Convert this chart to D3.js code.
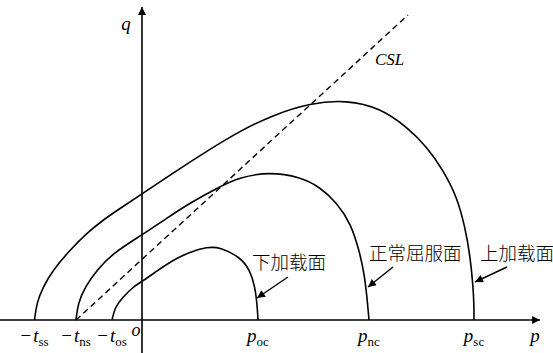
<!DOCTYPE html>
<html>
<head>
<meta charset="utf-8">
<script src="https://cdn.jsdelivr.net/npm/d3@7"></script>
<style>
  html, body { margin: 0; padding: 0; background: #fff; }
  svg { display: block; }
  .serif { font-family: "Liberation Serif", "DejaVu Serif", serif; font-style: italic; }
  .cjk { font-family: "Noto Sans CJK SC", sans-serif; font-weight: 300; }
</style>
</head>
<body>
<svg id="chart" width="553" height="353"></svg>
<script>
// Yield surfaces in the p–q plane (arbitrary stress units)
const surfaceNames = ["下加载面", "正常屈服面", "上加载面"];

const lowerSurfaceP = [-0.30, -0.27, -0.19, -0.09, 0, 0.15, 0.31, 0.48, 0.65, 0.78, 0.98, 1.08, 1.13, 1.15, 1.16];
const lowerSurfaceQ = [0, 0.13, 0.23, 0.33, 0.385, 0.49, 0.60, 0.68, 0.73, 0.73, 0.63, 0.50, 0.33, 0.17, 0];

const normalSurfaceP = [-0.66, -0.64, -0.57, -0.45, -0.29, 0, 0.25, 0.48, 0.75, 0.98, 1.28, 1.58, 1.78, 1.95, 2.09, 2.17, 2.22, 2.25, 2.27];
const normalSurfaceQ = [0, 0.17, 0.33, 0.50, 0.67, 0.85, 1.02, 1.17, 1.32, 1.43, 1.48, 1.43, 1.33, 1.17, 0.96, 0.70, 0.48, 0.23, 0];

const upperSurfaceP = [-1.075, -1.053, -0.99, -0.89, -0.72, -0.55, -0.39, -0.22, 0, 0.31, 0.65, 0.98, 1.31, 1.68, 2.05, 2.38, 2.65, 2.85, 3.01, 3.15, 3.23, 3.28, 3.31, 3.32, 3.32];
const upperSurfaceQ = [0, 0.17, 0.33, 0.50, 0.70, 0.87, 1.00, 1.115, 1.26, 1.47, 1.69, 1.89, 2.05, 2.17, 2.20, 2.12, 1.93, 1.73, 1.50, 1.23, 0.93, 0.65, 0.35, 0.15, 0];

// Critical state line
const cslP = [-0.66, 2.66];
const cslQ = [0, 3.05];

// Axis intercept labels: main letter, subscript, leading minus
const tickValues = [-1.075, -0.66, -0.30, 1.16, 2.27, 3.32];
const tickMain = ["t", "t", "t", "p", "p", "p"];
const tickSub = ["ss", "ns", "os", "oc", "nc", "sc"];
const tickNeg = [true, true, true, false, false, false];

// Leader arrows and label anchors for the surface names
const arrowFromP = [1.46, 2.51, 3.65];
const arrowFromQ = [0.43, 0.53, 0.53];
const arrowToP = [1.15, 2.26, 3.33];
const arrowToQ = [0.22, 0.33, 0.38];
const labelP = [1.10, 2.27, 3.38];
const labelQ = [0.51, 0.60, 0.60];

const svg = d3.select("#chart");
const W = 553, H = 353;

const x = d3.scaleLinear().domain([-1.42, 4.11]).range([0, 553]);
const y = d3.scaleLinear().domain([0, 3.20]).range([320, 0]);

// arrowhead marker
const defs = svg.append("defs");
defs.append("marker")
  .attr("id", "head")
  .attr("viewBox", "0 0 10 10")
  .attr("refX", 10).attr("refY", 5)
  .attr("markerUnits", "userSpaceOnUse")
  .attr("markerWidth", 12).attr("markerHeight", 8)
  .attr("orient", "auto")
  .append("path").attr("d", "M0,0 L10,5 L0,10 Z").attr("fill", "#000");

// p axis
const xAxis = d3.axisBottom(x).tickValues([]).tickSizeOuter(0);
const gx = svg.append("g").attr("transform", `translate(0,${y(0)})`).call(xAxis);
gx.select(".domain").remove();
gx.append("line")
  .attr("x1", 0).attr("x2", x(3.98))
  .attr("y1", 0).attr("y2", 0)
  .attr("stroke", "#000").attr("stroke-width", 1.6)
  .attr("marker-end", "url(#head)");

// q axis
const yAxis = d3.axisLeft(y).tickValues([]).tickSizeOuter(0);
const gy = svg.append("g").attr("transform", `translate(${x(0)},0)`).call(yAxis);
gy.select(".domain").remove();
gy.append("line")
  .attr("x1", 0).attr("x2", 0)
  .attr("y1", H).attr("y2", y(3.13))
  .attr("stroke", "#000").attr("stroke-width", 1.6)
  .attr("marker-end", "url(#head)");

// critical state line
svg.append("line")
  .attr("x1", x(cslP[0])).attr("y1", y(cslQ[0]))
  .attr("x2", x(cslP[1])).attr("y2", y(cslQ[1]))
  .attr("stroke", "#000").attr("stroke-width", 1.4)
  .attr("stroke-dasharray", "6,4");

// yield surfaces
const line = d3.line()
  .x(d => x(d[0])).y(d => y(d[1]))
  .curve(d3.curveBasis);
const surfaces = [
  d3.zip(lowerSurfaceP, lowerSurfaceQ),
  d3.zip(normalSurfaceP, normalSurfaceQ),
  d3.zip(upperSurfaceP, upperSurfaceQ)
];
svg.selectAll("path.surface").data(surfaces).join("path")
  .attr("class", "surface")
  .attr("d", line)
  .attr("fill", "none")
  .attr("stroke", "#000")
  .attr("stroke-width", 1.6);

// leader arrows and surface names
surfaceNames.forEach((name, i) => {
  svg.append("line")
    .attr("x1", x(arrowFromP[i])).attr("y1", y(arrowFromQ[i]))
    .attr("x2", x(arrowToP[i])).attr("y2", y(arrowToQ[i]))
    .attr("stroke", "#000").attr("stroke-width", 1.4)
    .attr("marker-end", "url(#head)");
  svg.append("text")
    .attr("class", "cjk")
    .attr("x", x(labelP[i])).attr("y", y(labelQ[i]))
    .attr("font-size", 18.5)
    .attr("fill", "#000")
    .text(name);
});

// intercept labels below the p axis
tickValues.forEach((v, i) => {
  const t = svg.append("text")
    .attr("class", "serif")
    .attr("x", x(v)).attr("y", 342)
    .attr("text-anchor", "middle")
    .attr("font-size", 19)
    .attr("fill", "#000");
  if (tickNeg[i]) t.append("tspan").style("font-style", "normal").text("\u2212");
  t.append("tspan").attr("dx", tickNeg[i] ? 2 : 0).text(tickMain[i]);
  t.append("tspan").attr("dy", 4).attr("font-size", 13).style("font-style", "normal").text(tickSub[i]);
});

// origin and axis names
svg.append("text").attr("class", "serif")
  .attr("x", x(-0.06)).attr("y", 336).attr("text-anchor", "middle")
  .attr("font-size", 18).text("o");
svg.append("text").attr("class", "serif")
  .attr("x", x(3.93)).attr("y", 342).attr("text-anchor", "middle")
  .attr("font-size", 19).text("p");
svg.append("text").attr("class", "serif")
  .attr("x", x(-0.16)).attr("y", 30).attr("text-anchor", "middle")
  .attr("font-size", 19).text("q");
svg.append("text").attr("class", "serif")
  .attr("x", x(2.33)).attr("y", 65)
  .attr("font-size", 17).text("CSL");
</script>
</body>
</html>
